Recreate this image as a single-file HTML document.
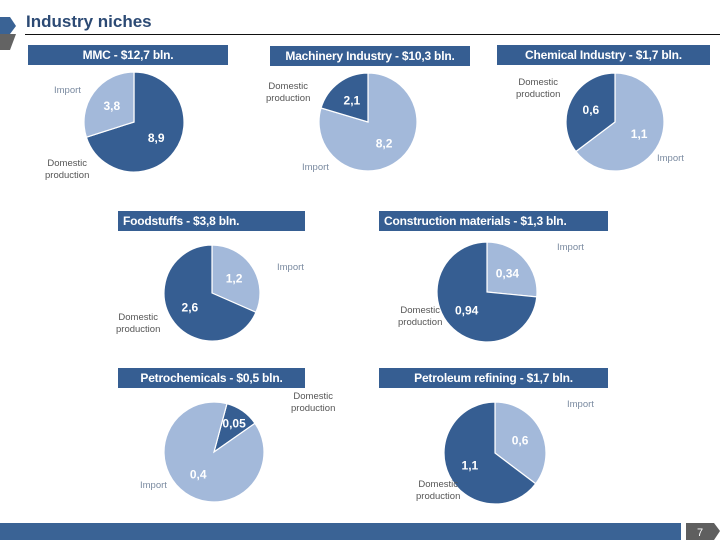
<!DOCTYPE html>
<html><head><meta charset="utf-8"><style>
body{margin:0;width:720px;height:540px;overflow:hidden;background:#fff;font-family:"Liberation Sans",sans-serif;position:relative}
.bar{position:absolute;background:#365e92;color:#fff;font-weight:bold;font-size:12px;text-align:center;line-height:20px;height:20px;letter-spacing:-0.2px}
.lbl{position:absolute;font-size:9.5px;color:#555;text-align:center;line-height:12px}
.lbl.imp{color:#7a8aa0}
</style></head><body>
<svg width="720" height="540" style="position:absolute;left:0;top:0">
<polygon points="0,17 10,17 16,26 10,34 0,34" fill="#3a6395"/>
<polygon points="0,34 16,34 10,50 0,50" fill="#636363"/>
<line x1="25" y1="34.5" x2="720" y2="34.5" stroke="#111" stroke-width="1"/>
<rect x="0" y="523" width="681" height="17" fill="#3a6395"/>
<polygon points="686,523 714,523 720,531 714,540 686,540" fill="#5f5f5f"/>
<text x="700" y="536" fill="#fff" font-size="11" text-anchor="middle" font-family="Liberation Sans">7</text>
<g id="pies"></g>
</svg>
<div style="position:absolute;left:26px;top:12px;font-size:17px;font-weight:bold;color:#2c4a74">Industry niches</div>

<div class="bar" style="left:28px;top:45px;width:200px">MMC - $12,7 bln.</div>
<div class="bar" style="left:270px;top:46px;width:200px">Machinery Industry - $10,3 bln.</div>
<div class="bar" style="left:497px;top:45px;width:213px">Chemical Industry - $1,7 bln.</div>
<div class="bar" style="left:118px;top:211px;width:187px;text-align:left;padding-left:5px;box-sizing:border-box">Foodstuffs - $3,8 bln.</div>
<div class="bar" style="left:379px;top:211px;width:229px;text-align:left;padding-left:5px;box-sizing:border-box">Construction materials - $1,3 bln.</div>
<div class="bar" style="left:118px;top:368px;width:187px">Petrochemicals - $0,5 bln.</div>
<div class="bar" style="left:379px;top:368px;width:229px">Petroleum refining - $1,7 bln.</div>

<div class="lbl imp" style="left:54px;top:85px">Import</div>
<div class="lbl" style="left:45px;top:158px">Domestic<br>production</div>
<div class="lbl" style="left:266px;top:81px">Domestic<br>production</div>
<div class="lbl imp" style="left:302px;top:162px">Import</div>
<div class="lbl" style="left:516px;top:77px">Domestic<br>production</div>
<div class="lbl imp" style="left:657px;top:153px">Import</div>
<div class="lbl imp" style="left:277px;top:262px">Import</div>
<div class="lbl" style="left:116px;top:312px">Domestic<br>production</div>
<div class="lbl imp" style="left:557px;top:242px">Import</div>
<div class="lbl" style="left:398px;top:305px">Domestic<br>production</div>
<div class="lbl" style="left:291px;top:391px">Domestic<br>production</div>
<div class="lbl imp" style="left:140px;top:480px">Import</div>
<div class="lbl imp" style="left:567px;top:399px">Import</div>
<div class="lbl" style="left:416px;top:479px">Domestic<br>production</div>

<script>
const chartNames=["mmc","machinery","chemical","foodstuffs","construction","petrochemicals","refining"];
const domesticValues=[8.9,2.1,0.6,2.6,0.94,0.05,1.1];
const importValues=[3.8,8.2,1.1,1.2,0.34,0.4,0.6];
const domesticText=["8,9","2,1","0,6","2,6","0,94","0,05","1,1"];
const importText=["3,8","8,2","1,1","1,2","0,34","0,4","0,6"];
const layout=[[134,122,50,0,'d'],[368,122,49,0,'i'],[615,122,49,0,'i'],[212,293,48,0,'i'],[487,292,50,0,'i'],[214,452,50,15,'d'],[495,453,51,0,'i']];
const DARK="#365e92",LIGHT="#a3b9da";
const g=document.getElementById('pies');
const NS="http://www.w3.org/2000/svg";
function pt(cx,cy,r,a){const t=(a-90)*Math.PI/180;return [cx+r*Math.cos(t),cy+r*Math.sin(t)];}
function slice(cx,cy,r,a0,a1,fill){
  const p=document.createElementNS(NS,'path');
  const s=pt(cx,cy,r,a0),e=pt(cx,cy,r,a1),large=(a1-a0)>180?1:0;
  p.setAttribute('d',`M${cx},${cy}L${s[0]},${s[1]}A${r},${r} 0 ${large} 1 ${e[0]},${e[1]}Z`);
  p.setAttribute('fill',fill);p.setAttribute('stroke','#fff');p.setAttribute('stroke-width','1.2');
  return p;
}
function label(x,y,txt){
  const t=document.createElementNS(NS,'text');
  t.setAttribute('x',x);t.setAttribute('y',y+4);t.setAttribute('fill','#fff');
  t.setAttribute('font-size','12');t.setAttribute('font-weight','bold');t.setAttribute('text-anchor','middle');
  t.setAttribute('font-family','Liberation Sans');t.textContent=txt;return t;
}
chartNames.forEach((nm,i)=>{
  const [cx,cy,r,st,first]=layout[i];
  const tot=domesticValues[i]+importValues[i];
  const parts=first==='d'?[['domestic',domesticValues[i],DARK,domesticText[i]],['import',importValues[i],LIGHT,importText[i]]]
                         :[['import',importValues[i],LIGHT,importText[i]],['domestic',domesticValues[i],DARK,domesticText[i]]];
  let a=st;
  parts.forEach(([k,v,col,txt])=>{
    const sw=v/tot*360;
    let a0=a,a1=a+sw;
    if(i===1||i===2){ if(k==='domestic'){a0=360-sw;a1=360;} else {a0=0;a1=360-domesticValues[i]/tot*360;} }
    const p=slice(cx,cy,r,a0,a1,col);
    
    
    g.appendChild(p);
    const m=(a0+a1)/2;const lp=pt(cx,cy,r*(sw<60?0.7:0.55),m);
    const t=label(lp[0],lp[1],txt);
    
    
    g.appendChild(t);
    a=a1;
  });
});
</script>
</body></html>
